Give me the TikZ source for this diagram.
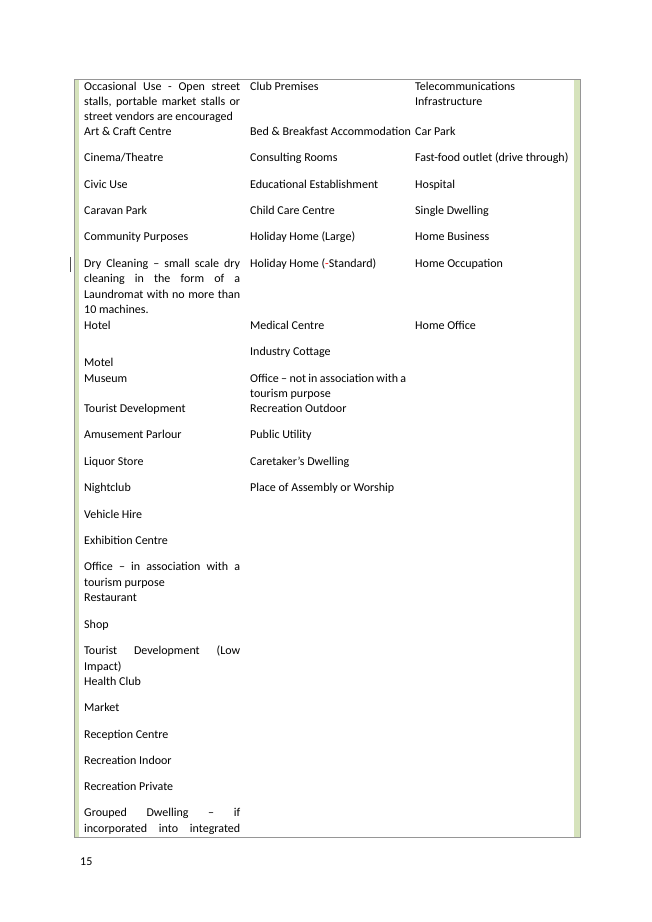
\documentclass[tikz,border=0pt]{standalone}
\usepackage{fontspec}
\setmainfont{Carlito}
\definecolor{gbar}{RGB}{214,227,188}
\definecolor{gline}{RGB}{150,150,150}
\newcommand{\jl}[1]{\hbox to 156pt{#1}}
\begin{document}
\begin{tikzpicture}[x=1pt,y=-1pt,
  t/.style={anchor=west,inner sep=0pt,text height=8.5pt,text depth=2.5pt,font=\fontsize{12}{15}\selectfont}]
\useasboundingbox (0,0) rectangle (652,922);
\fill[white] (0,0) rectangle (652,922);
% frame
\fill[gbar] (74.5,79) rectangle (78.5,837);
\fill[gbar] (574,79) rectangle (579.5,837);
\draw[gline,line width=1pt] (74.5,79) -- (580,79) -- (580,837) -- (74.5,837) -- cycle;
\draw[black!70,line width=0.8pt] (70,257) -- (70,272);
% column 1
\node[t] (a1) at (84,87) {\jl{Occasional\hfill Use\hfill -\hfill Open\hfill street}};
\node[t] (a2) at (84,102.5) {\jl{stalls,\hfill portable\hfill market\hfill stalls\hfill or}};
\node[t] (a3) at (84,117.5) {street vendors are encouraged};
\node[t] (a4) at (84,132.5) {Art \& Craft Centre};
\node[t] (a5) at (84,158.5) {Cinema/Theatre};
\node[t] (a6) at (84,185) {Civic Use};
\node[t] (a7) at (84,211) {Caravan Park};
\node[t] (a8) at (84,237.5) {Community Purposes};
\node[t] (a9) at (84,264) {\jl{Dry\hfill Cleaning\hfill –\hfill small\hfill scale\hfill dry}};
\node[t] (a10) at (84,279.5) {\jl{cleaning\hfill in\hfill the\hfill form\hfill of\hfill a}};
\node[t] (a11) at (84,295) {\jl{Laundromat\hfill with\hfill no\hfill more\hfill than}};
\node[t] (a12) at (84,310.5) {10 machines.};
\node[t] (a13) at (84,326) {Hotel};
\node[t] (a14) at (84,363) {Motel};
\node[t] (a15) at (84,379) {Museum};
\node[t] (a16) at (84,409) {Tourist Development};
\node[t] (a17) at (84,435.5) {Amusement Parlour};
\node[t] (a18) at (84,462) {Liquor Store};
\node[t] (a19) at (84,488) {Nightclub};
\node[t] (a20) at (84,515) {Vehicle Hire};
\node[t] (a21) at (84,541) {Exhibition Centre};
\node[t] (a22) at (84,567) {\jl{Office\hfill –\hfill in\hfill association\hfill with\hfill a}};
\node[t] (a23) at (84,583) {tourism purpose};
\node[t] (a24) at (84,598.5) {Restaurant};
\node[t] (a25) at (84,625) {Shop};
\node[t] (a26) at (84,651) {\jl{Tourist\hfill Development\hfill (Low}};
\node[t] (a27) at (84,667) {Impact)};
\node[t] (a28) at (84,682) {Health Club};
\node[t] (a29) at (84,708) {Market};
\node[t] (a30) at (84,735) {Reception Centre};
\node[t] (a31) at (84,761) {Recreation Indoor};
\node[t] (a32) at (84,787) {Recreation Private};
\node[t] (a33) at (84,813) {\jl{Grouped\hfill Dwelling\hfill –\hfill if}};
\node[t] (a34) at (84,829) {\jl{incorporated\hfill into\hfill integrated}};
% column 2
\node[t] (b1) at (250,87) {Club Premises};
\node[t] (b2) at (250,132.5) {Bed \& Breakfast Accommodation};
\node[t] (b3) at (250,158.5) {Consulting Rooms};
\node[t] (b4) at (250,185) {Educational Establishment};
\node[t] (b5) at (250,211) {Child Care Centre};
\node[t] (b6) at (250,237.5) {Holiday Home (Large)};
\node[t] (b7) at (250,264) {Holiday Home ({\color{red}-}Standard)};
\node[t] (b8) at (250,326) {Medical Centre};
\node[t] (b9) at (250,352) {Industry Cottage};
\node[t] (b10) at (250,379) {\hbox to 156pt{Office\hfill –\hfill not\hfill in\hfill association\hfill with\hfill a}};
\node[t] (b11) at (250,394) {tourism purpose};
\node[t] (b12) at (250,409) {Recreation Outdoor};
\node[t] (b13) at (250,435.5) {Public Utility};
\node[t] (b14) at (250,462) {Caretaker’s Dwelling};
\node[t] (b15) at (250,488) {Place of Assembly or Worship};
% column 3
\node[t] (c1) at (415,87) {Telecommunications};
\node[t] (c2) at (415,102.5) {Infrastructure};
\node[t] (c3) at (415,132.5) {Car Park};
\node[t] (c4) at (415,158.5) {Fast-food outlet (drive through)};
\node[t] (c5) at (415,185) {Hospital};
\node[t] (c6) at (415,211) {Single Dwelling};
\node[t] (c7) at (415,237.5) {Home Business};
\node[t] (c8) at (415,264) {Home Occupation};
\node[t] (c9) at (415,326) {Home Office};
% page number
\node[t] (pg) at (80,862) {15};
\end{tikzpicture}
\end{document}
